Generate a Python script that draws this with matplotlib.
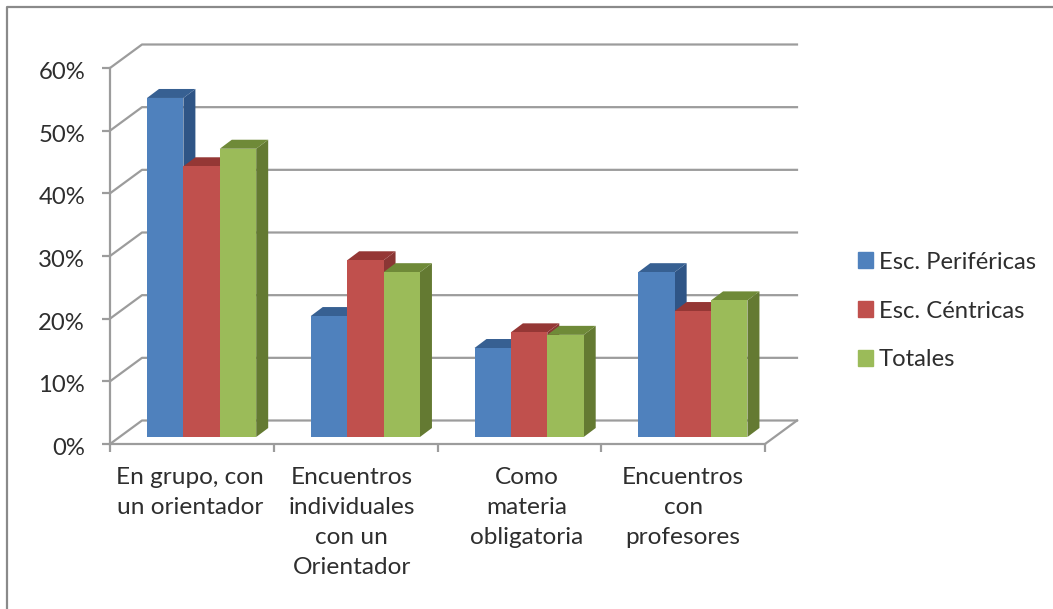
import matplotlib
matplotlib.use("Agg")
import matplotlib.pyplot as plt
from matplotlib.patches import Patch
from matplotlib.transforms import ScaledTranslation
import numpy as np

plt.rcParams['font.family'] = ['Lato', 'DejaVu Sans']

# Data
categories = ["En grupo, con\nun orientador", "Encuentros\nindividuales\ncon un\nOrientador",
              "Como\nmateria\nobligatoria", "Encuentros\ncon\nprofesores"]
series_names = ["Esc. Periféricas", "Esc. Céntricas", "Totales"]
perifericas = [54.1, 19.3, 14.2, 26.3]
centricas = [43.2, 28.2, 16.7, 20.1]
totales = [46.0, 26.3, 16.3, 21.8]
yticks = [0, 10, 20, 30, 40, 50, 60]

front_colors = ["#4F81BD", "#C0504D", "#9BBB59"]
side_colors = ["#2F5586", "#8A3634", "#647A32"]
top_colors = ["#376092", "#953735", "#6F8A38"]
GRID = "#9C9C9C"
TEXT = "#2E2E2E"
W, H = 1053, 609

fig = plt.figure(figsize=(W / 100, H / 100), dpi=100)

# frame around the chart
frame = fig.add_axes([0, 0, 1, 1], zorder=0)
frame.set_xlim(0, W); frame.set_ylim(H, 0); frame.axis("off")
frame.plot([7, 7, W], [H, 7, 7], color="#8A8A8A", lw=1.6)

# axes area = front plane of the 3d box, in pixels 110..765 / 68..444
ax = fig.add_axes([110 / W, 1 - 444 / H, 655 / W, 376 / H], zorder=1)
ax.patch.set_alpha(0)
ax.set_xlim(0, 4)
ax.set_ylim(0, 60)

xpx = 4 / 655
ypx = 60 / 376
box_dx, box_dy = 32 * xpx, 23.5 * ypx    # depth of the floor
bar_dx, bar_dy = 12 * xpx, 9 * ypx       # depth of one bar
lift = 7 * ypx                           # bars stand a bit back on the floor
bar_w = 36.4 * xpx
start = 37 * xpx

# back wall grid
for v in yticks:
    ax.plot([0, box_dx, 4 + box_dx], [v, v + box_dy, v + box_dy], color=GRID, lw=1.6,
            clip_on=False, zorder=1, solid_joinstyle="round")
ax.plot([4, 4 + box_dx], [0, box_dy], color=GRID, lw=1.6, clip_on=False, zorder=1)

x = np.arange(len(categories))
for i, vals in enumerate([perifericas, centricas, totales]):
    left = x + start + i * bar_w
    z = 2 + i
    for l, v in zip(left, vals):
        top = v + lift
        ax.fill([l + bar_w, l + bar_w + bar_dx, l + bar_w + bar_dx, l + bar_w],
                [lift, lift + bar_dy, top + bar_dy, top],
                color=side_colors[i], lw=0, clip_on=False, zorder=z)
        ax.fill([l, l + bar_dx, l + bar_w + bar_dx, l + bar_w],
                [top, top + bar_dy, top + bar_dy, top],
                color=top_colors[i], lw=0, clip_on=False, zorder=z)
    ax.bar(left, vals, bar_w, bottom=lift, align="edge", color=front_colors[i], lw=0, zorder=z + 0.1)

for s in ["top", "right"]:
    ax.spines[s].set_visible(False)
for s in ["left", "bottom"]:
    ax.spines[s].set_color(GRID)
    ax.spines[s].set_linewidth(1.6)
    ax.spines[s].set_zorder(1.5)

ax.set_yticks(yticks)
ax.set_yticklabels([f"{v}%" for v in yticks])
ax.set_xticks(np.arange(5))
ax.set_xticklabels([""] * 5)
ax.set_xticks(x + 0.5, categories, minor=True, linespacing=1.54)
ax.tick_params(axis="both", which="major", color=GRID, width=1.6, length=6)
ax.tick_params(axis="y", labelsize=17.2, labelcolor=TEXT, pad=12)
ax.tick_params(axis="x", which="minor", length=0, labelsize=17.6, labelcolor=TEXT, pad=16.5)

# y labels sit a little under their ticks in the original
for lab in ax.get_yticklabels():
    lab.set_transform(lab.get_transform() + ScaledTranslation(0, -2.5 / 100, fig.dpi_scale_trans))

# Excel does not quite centre the labels under the categories
for lab, dx in zip(ax.get_xticklabels(minor=True), [-2, -4, 7, 0]):
    lab.set_transform(lab.get_transform() + ScaledTranslation(dx / 100, 0, fig.dpi_scale_trans))

handles = [Patch(color=c) for c in front_colors]
leg = fig.legend(handles, series_names, loc="upper left", bbox_to_anchor=(848 / W, 1 - 242 / H),
                 frameon=False, fontsize=17.2, labelcolor=TEXT, handlelength=0.64, handleheight=0.64,
                 handletextpad=0.25, labelspacing=1.17, borderaxespad=0, borderpad=0.4)

fig.savefig("out.png", dpi=100)
